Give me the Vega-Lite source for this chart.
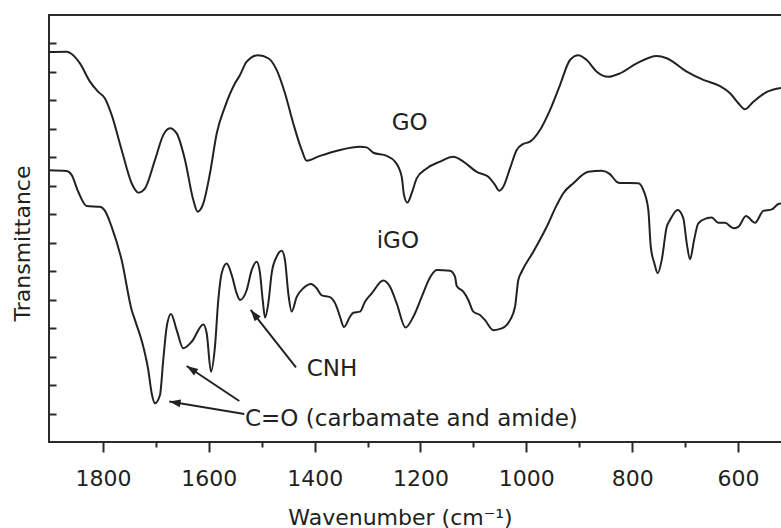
{
  "$schema": "https://vega.github.io/schema/vega-lite/v6.json",
  "width": 734,
  "height": 427,
  "autosize": "none",
  "padding": {"left": 49, "top": 15, "right": 0, "bottom": 86},
  "background": "white",
  "config": {
    "view": {"stroke": "#2b2b2b", "strokeWidth": 2},
    "font": "DejaVu Sans"
  },
  "datasets": {
    "spectra": [
      {"s":"GO","w":1902,"t":13.70},{"s":"GO","w":1868.6,"t":13.71},{"s":"GO","w":1859.2,"t":13.63},{"s":"GO","w":1843.5,"t":13.30},{"s":"GO","w":1824.6,"t":12.66},{"s":"GO","w":1808.9,"t":12.30},{"s":"GO","w":1796.2,"t":12.07},{"s":"GO","w":1783.6,"t":11.49},{"s":"GO","w":1764.7,"t":10.26},{"s":"GO","w":1745.8,"t":9.09},{"s":"GO","w":1733.3,"t":8.76},{"s":"GO","w":1720.6,"t":8.91},{"s":"GO","w":1701.7,"t":9.91},{"s":"GO","w":1686.1,"t":10.78},{"s":"GO","w":1673.4,"t":11.02},{"s":"GO","w":1660.7,"t":10.84},{"s":"GO","w":1645.0,"t":9.91},{"s":"GO","w":1629.3,"t":8.50},{"s":"GO","w":1621.0,"t":8.09},{"s":"GO","w":1610.4,"t":8.38},{"s":"GO","w":1597.8,"t":9.44},{"s":"GO","w":1585.1,"t":10.84},{"s":"GO","w":1569.4,"t":11.78},{"s":"GO","w":1550.5,"t":12.60},{"s":"GO","w":1541.1,"t":12.89},{"s":"GO","w":1528.4,"t":13.36},{"s":"GO","w":1506.5,"t":13.59},{"s":"GO","w":1487.6,"t":13.48},{"s":"GO","w":1471.8,"t":13.07},{"s":"GO","w":1456.1,"t":12.25},{"s":"GO","w":1440.4,"t":11.19},{"s":"GO","w":1424.5,"t":10.26},{"s":"GO","w":1415.1,"t":9.88},{"s":"GO","w":1389.9,"t":10.05},{"s":"GO","w":1352.1,"t":10.26},{"s":"GO","w":1314.3,"t":10.37},{"s":"GO","w":1301.7,"t":10.35},{"s":"GO","w":1289.2,"t":10.16},{"s":"GO","w":1263.9,"t":10.05},{"s":"GO","w":1248.2,"t":9.85},{"s":"GO","w":1235.5,"t":9.32},{"s":"GO","w":1231.2,"t":8.68},{"s":"GO","w":1224.9,"t":8.41},{"s":"GO","w":1216.6,"t":8.74},{"s":"GO","w":1207.2,"t":9.26},{"s":"GO","w":1188.3,"t":9.61},{"s":"GO","w":1163.2,"t":9.85},{"s":"GO","w":1138.0,"t":10.02},{"s":"GO","w":1119.1,"t":9.85},{"s":"GO","w":1093.8,"t":9.49},{"s":"GO","w":1071.8,"t":9.32},{"s":"GO","w":1059.2,"t":9.03},{"s":"GO","w":1051.6,"t":8.83},{"s":"GO","w":1043.5,"t":8.97},{"s":"GO","w":1030.9,"t":9.61},{"s":"GO","w":1018.2,"t":10.26},{"s":"GO","w":1005.7,"t":10.47},{"s":"GO","w":993.1,"t":10.55},{"s":"GO","w":974.2,"t":10.96},{"s":"GO","w":955.3,"t":11.66},{"s":"GO","w":936.4,"t":12.54},{"s":"GO","w":917.5,"t":13.42},{"s":"GO","w":901.8,"t":13.59},{"s":"GO","w":885.9,"t":13.42},{"s":"GO","w":867.0,"t":13.01},{"s":"GO","w":845.1,"t":12.83},{"s":"GO","w":823.0,"t":12.95},{"s":"GO","w":791.4,"t":13.30},{"s":"GO","w":753.6,"t":13.56},{"s":"GO","w":734.7,"t":13.48},{"s":"GO","w":696.9,"t":13.01},{"s":"GO","w":665.5,"t":12.72},{"s":"GO","w":633.9,"t":12.50},{"s":"GO","w":615.0,"t":12.25},{"s":"GO","w":599.4,"t":11.90},{"s":"GO","w":586.8,"t":11.69},{"s":"GO","w":571.1,"t":11.95},{"s":"GO","w":545.7,"t":12.30},{"s":"GO","w":518.8,"t":12.44},
      {"s":"iGO","w":1902,"t":9.55},{"s":"iGO","w":1868.6,"t":9.52},{"s":"iGO","w":1859.2,"t":9.38},{"s":"iGO","w":1846.7,"t":8.79},{"s":"iGO","w":1830.8,"t":8.29},{"s":"iGO","w":1805.7,"t":8.26},{"s":"iGO","w":1796.2,"t":8.12},{"s":"iGO","w":1783.6,"t":7.56},{"s":"iGO","w":1764.7,"t":6.39},{"s":"iGO","w":1745.8,"t":4.64},{"s":"iGO","w":1739.5,"t":4.28},{"s":"iGO","w":1723.8,"t":3.35},{"s":"iGO","w":1714.4,"t":2.53},{"s":"iGO","w":1708.0,"t":1.71},{"s":"iGO","w":1701.7,"t":1.36},{"s":"iGO","w":1692.3,"t":1.65},{"s":"iGO","w":1686.1,"t":2.88},{"s":"iGO","w":1679.6,"t":4.05},{"s":"iGO","w":1671.5,"t":4.50},{"s":"iGO","w":1660.7,"t":3.93},{"s":"iGO","w":1648.3,"t":3.29},{"s":"iGO","w":1632.4,"t":3.52},{"s":"iGO","w":1610.4,"t":4.13},{"s":"iGO","w":1604.0,"t":3.82},{"s":"iGO","w":1595.9,"t":2.47},{"s":"iGO","w":1588.4,"t":3.35},{"s":"iGO","w":1582.1,"t":4.99},{"s":"iGO","w":1575.7,"t":5.93},{"s":"iGO","w":1566.2,"t":6.27},{"s":"iGO","w":1556.8,"t":5.87},{"s":"iGO","w":1547.3,"t":5.22},{"s":"iGO","w":1541.1,"t":4.99},{"s":"iGO","w":1528.4,"t":5.34},{"s":"iGO","w":1519.0,"t":6.04},{"s":"iGO","w":1509.5,"t":6.33},{"s":"iGO","w":1503.3,"t":5.93},{"s":"iGO","w":1498.2,"t":4.99},{"s":"iGO","w":1493.8,"t":4.37},{"s":"iGO","w":1487.6,"t":4.87},{"s":"iGO","w":1481.2,"t":5.93},{"s":"iGO","w":1471.8,"t":6.51},{"s":"iGO","w":1462.3,"t":6.72},{"s":"iGO","w":1456.1,"t":6.39},{"s":"iGO","w":1449.8,"t":5.22},{"s":"iGO","w":1443.4,"t":4.58},{"s":"iGO","w":1433.9,"t":5.10},{"s":"iGO","w":1421.5,"t":5.40},{"s":"iGO","w":1406.9,"t":5.55},{"s":"iGO","w":1396.2,"t":5.40},{"s":"iGO","w":1386.7,"t":5.15},{"s":"iGO","w":1371.0,"t":5.09},{"s":"iGO","w":1358.4,"t":4.75},{"s":"iGO","w":1352.1,"t":4.40},{"s":"iGO","w":1344.6,"t":4.04},{"s":"iGO","w":1333.2,"t":4.40},{"s":"iGO","w":1327.0,"t":4.54},{"s":"iGO","w":1314.3,"t":4.58},{"s":"iGO","w":1304.9,"t":4.93},{"s":"iGO","w":1292.2,"t":5.22},{"s":"iGO","w":1270.3,"t":5.67},{"s":"iGO","w":1257.6,"t":5.45},{"s":"iGO","w":1245.0,"t":4.87},{"s":"iGO","w":1228.4,"t":4.02},{"s":"iGO","w":1213.6,"t":4.40},{"s":"iGO","w":1197.7,"t":5.10},{"s":"iGO","w":1182.0,"t":5.78},{"s":"iGO","w":1169.4,"t":6.04},{"s":"iGO","w":1144.2,"t":6.02},{"s":"iGO","w":1134.8,"t":5.81},{"s":"iGO","w":1131.5,"t":5.48},{"s":"iGO","w":1119.1,"t":5.28},{"s":"iGO","w":1109.6,"t":4.99},{"s":"iGO","w":1100.2,"t":4.58},{"s":"iGO","w":1087.6,"t":4.46},{"s":"iGO","w":1078.1,"t":4.28},{"s":"iGO","w":1062.4,"t":3.93},{"s":"iGO","w":1046.5,"t":3.99},{"s":"iGO","w":1030.9,"t":4.28},{"s":"iGO","w":1021.4,"t":4.75},{"s":"iGO","w":1015.2,"t":5.69},{"s":"iGO","w":1008.8,"t":5.98},{"s":"iGO","w":986.8,"t":6.68},{"s":"iGO","w":961.5,"t":7.56},{"s":"iGO","w":942.6,"t":8.32},{"s":"iGO","w":930.1,"t":8.74},{"s":"iGO","w":911.2,"t":9.09},{"s":"iGO","w":882.9,"t":9.49},{"s":"iGO","w":857.5,"t":9.53},{"s":"iGO","w":841.9,"t":9.41},{"s":"iGO","w":829.2,"t":9.14},{"s":"iGO","w":823.0,"t":9.10},{"s":"iGO","w":788.4,"t":9.09},{"s":"iGO","w":778.9,"t":8.85},{"s":"iGO","w":769.5,"t":8.15},{"s":"iGO","w":764.9,"t":6.86},{"s":"iGO","w":758.1,"t":6.28},{"s":"iGO","w":751.7,"t":5.93},{"s":"iGO","w":744.2,"t":6.39},{"s":"iGO","w":734.7,"t":7.56},{"s":"iGO","w":728.5,"t":7.80},{"s":"iGO","w":713.9,"t":8.15},{"s":"iGO","w":703.4,"t":7.86},{"s":"iGO","w":696.9,"t":6.98},{"s":"iGO","w":690.6,"t":6.42},{"s":"iGO","w":683.1,"t":7.09},{"s":"iGO","w":675.0,"t":7.68},{"s":"iGO","w":659.2,"t":7.86},{"s":"iGO","w":649.7,"t":7.89},{"s":"iGO","w":637.2,"t":7.70},{"s":"iGO","w":624.6,"t":7.70},{"s":"iGO","w":608.8,"t":7.51},{"s":"iGO","w":599.4,"t":7.56},{"s":"iGO","w":584.9,"t":7.94},{"s":"iGO","w":567.9,"t":7.70},{"s":"iGO","w":552.2,"t":8.12},{"s":"iGO","w":536.3,"t":8.17},{"s":"iGO","w":523.8,"t":8.36},{"s":"iGO","w":518.8,"t":8.38}
    ],
    "arrows": [
      {"name":"CNH","w1":1435.3,"t1":2.62,"w2":1520.9,"t2":4.64},
      {"name":"CO1","w1":1542.4,"t1":1.44,"w2":1641.8,"t2":2.67},
      {"name":"CO2","w1":1533.0,"t1":0.98,"w2":1674.7,"t2":1.42}
    ],
    "labels": [
      {"text":"GO","w":1254.4,"t":11.2},
      {"text":"iGO","w":1282.8,"t":7.06},
      {"text":"CNH","w":1415.0,"t":2.56},
      {"text":"C=O (carbamate and amide)","w":1531.6,"t":0.8}
    ]
  },
  "resolve": {"axis": {"x": "independent", "y": "independent"}},
  "layer": [
    {
      "data": {"name": "spectra"},
      "mark": {"type": "line", "color": "#222222", "strokeWidth": 2, "interpolate": "monotone", "clip": true},
      "encoding": {
        "x": {
          "field": "w", "type": "quantitative",
          "scale": {"domain": [1902, 515], "nice": false, "zero": false},
          "axis": {
            "orient": "bottom",
            "title": "Wavenumber (cm⁻¹)",
            "values": [1800, 1600, 1400, 1200, 1000, 800, 600],
            "format": "d",
            "grid": false,
            "domain": false,
            "ticks": true,
            "tickOpacity": 1,
            "tickColor": "#2b2b2b",
            "tickWidth": 2,
            "tickSize": 10,
            "zindex": 2,
            "labelOverlap": false,
            "labelFontSize": 22,
            "labelColor": "#231f20",
            "labelPadding": 16,
            "labelFlush": false,
            "titleFontSize": 22,
            "titleFontWeight": "normal",
            "titleColor": "#231f20",
            "titlePadding": 18,
            "titleX": 351
          }
        },
        "y": {
          "field": "t", "type": "quantitative",
          "scale": {"domain": [0, 15], "nice": false, "zero": false},
          "axis": {
            "orient": "left",
            "title": "Transmittance",
            "values": [1,2,3,4,5,6,7,8,9,10,11,12,13,14],
            "labels": false,
            "labelOverlap": false,
            "grid": false,
            "domain": false,
            "tickColor": "#2b2b2b",
            "tickWidth": 2,
            "tickSize": -7,
            "titleFontSize": 22,
            "titleFontWeight": "normal",
            "titleColor": "#231f20",
            "titleX": -20,
            "titleY": 228,
            "titleBaseline": "alphabetic"
          }
        },
        "detail": {"field": "s", "type": "nominal"}
      }
    },
    {
      "data": {"name": "arrows"},
      "mark": {"type": "rule", "color": "#222222", "strokeWidth": 2},
      "encoding": {
        "x": {"field": "w1", "type": "quantitative",
          "axis": {
            "orient": "bottom",
            "title": null,
            "values": [1700, 1500, 1300, 1100, 900, 700],
            "labels": false,
            "grid": false,
            "domain": false,
            "ticks": true,
            "tickOpacity": 1,
            "tickColor": "#2b2b2b",
            "tickWidth": 2,
            "tickSize": 5,
            "zindex": 2
          }
        },
        "y": {"field": "t1", "type": "quantitative", "axis": null},
        "x2": {"field": "w2"},
        "y2": {"field": "t2"}
      }
    },
    {
      "data": {"name": "arrows"},
      "transform": [{"filter": "datum.name === 'CNH'"}],
      "mark": {"type": "point", "shape": "M0,0 L0.55,1.6 L-0.55,1.6 Z", "filled": true, "color": "#222222", "opacity": 1, "size": 200, "angle": 321.7},
      "encoding": {
        "x": {"field": "w2", "type": "quantitative", "axis": null},
        "y": {"field": "t2", "type": "quantitative", "axis": null}
      }
    },
    {
      "data": {"name": "arrows"},
      "transform": [{"filter": "datum.name === 'CO1'"}],
      "mark": {"type": "point", "shape": "M0,0 L0.55,1.6 L-0.55,1.6 Z", "filled": true, "color": "#222222", "opacity": 1, "size": 200, "angle": 303.6},
      "encoding": {
        "x": {"field": "w2", "type": "quantitative", "axis": null},
        "y": {"field": "t2", "type": "quantitative", "axis": null}
      }
    },
    {
      "data": {"name": "arrows"},
      "transform": [{"filter": "datum.name === 'CO2'"}],
      "mark": {"type": "point", "shape": "M0,0 L0.55,1.6 L-0.55,1.6 Z", "filled": true, "color": "#222222", "opacity": 1, "size": 200, "angle": 279.3},
      "encoding": {
        "x": {"field": "w2", "type": "quantitative", "axis": null},
        "y": {"field": "t2", "type": "quantitative", "axis": null}
      }
    },
    {
      "data": {"name": "labels"},
      "mark": {"type": "text", "align": "left", "baseline": "middle", "fontSize": 23, "color": "#231f20", "font": "DejaVu Sans"},
      "encoding": {
        "x": {"field": "w", "type": "quantitative", "axis": null},
        "y": {"field": "t", "type": "quantitative", "axis": null},
        "text": {"field": "text"}
      }
    }
  ]
}
